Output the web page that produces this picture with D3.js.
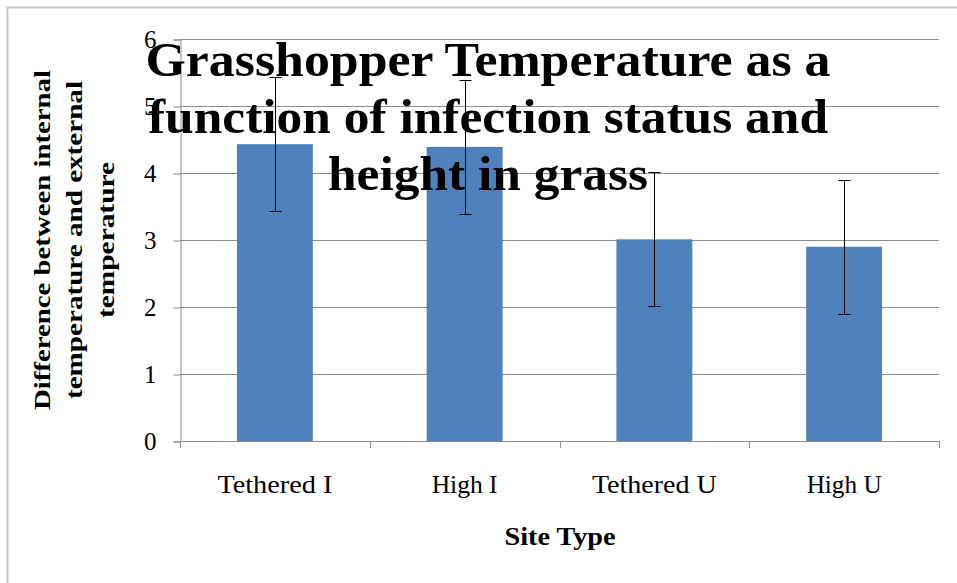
<!DOCTYPE html>
<html>
<head>
<meta charset="utf-8">
<script src="https://cdn.jsdelivr.net/npm/d3@7/dist/d3.min.js"></script>
<style>
  body { margin: 0; background: #fff; }
  text { font-family: "Liberation Serif", "DejaVu Serif", serif; fill: #000; }
</style>
</head>
<body>
<script>
// chart data
var siteTypes = ["Tethered I", "High I", "Tethered U", "High U"]
var tempDiff = [4.43, 4.39, 3.01, 2.9]
var errorSize = [1, 1, 1, 1]
var yTicks = [0, 1, 2, 3, 4, 5, 6]
var titleLines = ["Grasshopper Temperature as a", "function of infection status and", "height in grass"]
var yTitleLines = ["Difference between internal", "temperature and external", "temperature"]

var W = 957, H = 583

var svg = d3.select("body").append("svg")
  .attr("width", W)
  .attr("height", H)

// outer frame (cut off at right / bottom)
svg.append("rect")
  .attr("x", 7.5).attr("y", 7.5)
  .attr("width", 1000).attr("height", 1000)
  .attr("fill", "none")
  .attr("stroke", "#c4c4c4")
  .attr("stroke-width", 2)

var plotLeft = 180, plotRight = 939, plotTop = 39, plotBottom = 441

var x = d3.scaleBand()
  .domain(siteTypes)
  .range([plotLeft, plotRight])
  .paddingInner(0.6)
  .paddingOuter(0.3)

var y = d3.scaleLinear()
  .domain([0, 6])
  .range([plotBottom, plotTop])

// gridlines
svg.append("g").selectAll("line")
  .data(yTicks.slice(1))
  .enter().append("line")
  .attr("x1", plotLeft).attr("x2", plotRight)
  .attr("y1", function(d) { return Math.round(y(d)) + 0.5 })
  .attr("y2", function(d) { return Math.round(y(d)) + 0.5 })
  .attr("stroke", "#8c8c8c")
  .attr("stroke-width", 1)

// y axis
var yAxis = svg.append("g")
  .attr("transform", "translate(" + (plotLeft + 0.5) + ",0.5)")
  .call(d3.axisLeft(y).tickValues(yTicks).tickFormat(d3.format("d")).tickSize(7).tickPadding(17))
yAxis.select(".domain").attr("stroke", "#8c8c8c")
yAxis.selectAll(".tick line").attr("stroke", "#8c8c8c")
yAxis.selectAll(".tick text")
  .style("font-size", "25px")
  .style("font-family", "Liberation Serif, serif")
  .attr("fill", "#000")

// bars
svg.append("g").selectAll("rect")
  .data(tempDiff)
  .enter().append("rect")
  .attr("x", function(d, i) { return x(siteTypes[i]) })
  .attr("y", function(d) { return y(d) })
  .attr("width", x.bandwidth())
  .attr("height", function(d) { return y(0) - y(d) })
  .attr("fill", "#4f81bd")

// x axis
svg.append("line")
  .attr("x1", plotLeft).attr("x2", plotRight)
  .attr("y1", plotBottom + 0.5).attr("y2", plotBottom + 0.5)
  .attr("stroke", "#8c8c8c")
var boundaries = d3.range(siteTypes.length + 1).map(function(i) { return plotLeft + i * x.step() })
svg.append("g").selectAll("line")
  .data(boundaries)
  .enter().append("line")
  .attr("x1", function(d) { return Math.round(d) + 0.5 })
  .attr("x2", function(d) { return Math.round(d) + 0.5 })
  .attr("y1", plotBottom).attr("y2", plotBottom + 7)
  .attr("stroke", "#8c8c8c")

var xLabelLen = [115, 66, 125, 75]
svg.append("g").selectAll("text")
  .data(siteTypes)
  .enter().append("text")
  .attr("x", function(d) { return x(d) + x.bandwidth() / 2 })
  .attr("y", 493)
  .attr("text-anchor", "middle")
  .style("font-size", "25px")
  .attr("textLength", function(d, i) { return xLabelLen[i] })
  .attr("lengthAdjust", "spacingAndGlyphs")
  .text(function(d) { return d })

// error bars
var err = svg.append("g").attr("stroke", "#000").attr("stroke-width", 1)
tempDiff.forEach(function(d, i) {
  var cx = Math.round(x(siteTypes[i]) + x.bandwidth() / 2) + 0.5
  var hi = Math.round(y(d + errorSize[i])) + 0.5
  var lo = Math.round(y(d - errorSize[i])) + 0.5
  err.append("line").attr("x1", cx).attr("x2", cx).attr("y1", hi).attr("y2", lo)
  err.append("line").attr("x1", cx - 6).attr("x2", cx + 6).attr("y1", hi).attr("y2", hi)
  err.append("line").attr("x1", cx - 6).attr("x2", cx + 6).attr("y1", lo).attr("y2", lo)
})

// x axis title
svg.append("text")
  .attr("x", 560).attr("y", 545)
  .attr("text-anchor", "middle")
  .style("font-size", "25px")
  .style("font-weight", "bold")
  .attr("textLength", 111)
  .attr("lengthAdjust", "spacingAndGlyphs")
  .text("Site Type")

// y axis title
var yTitleLen = [340, 318, 156]
var yTitle = svg.append("g").attr("transform", "translate(0,240) rotate(-90)")
yTitle.selectAll("text")
  .data(yTitleLines)
  .enter().append("text")
  .attr("x", 0)
  .attr("y", function(d, i) { return 50 + i * 32 })
  .attr("text-anchor", "middle")
  .style("font-size", "23px")
  .style("font-weight", "bold")
  .attr("textLength", function(d, i) { return yTitleLen[i] })
  .attr("lengthAdjust", "spacingAndGlyphs")
  .text(function(d) { return d })

// chart title (drawn over the plot, as in the original)
var titleLen = [685, 680, 320]
svg.append("g").selectAll("text")
  .data(titleLines)
  .enter().append("text")
  .attr("x", 488)
  .attr("y", function(d, i) { return 76 + i * 57 })
  .attr("text-anchor", "middle")
  .style("font-size", "48px")
  .style("font-weight", "bold")
  .attr("textLength", function(d, i) { return titleLen[i] })
  .attr("lengthAdjust", "spacingAndGlyphs")
  .text(function(d) { return d })
</script>
</body>
</html>
